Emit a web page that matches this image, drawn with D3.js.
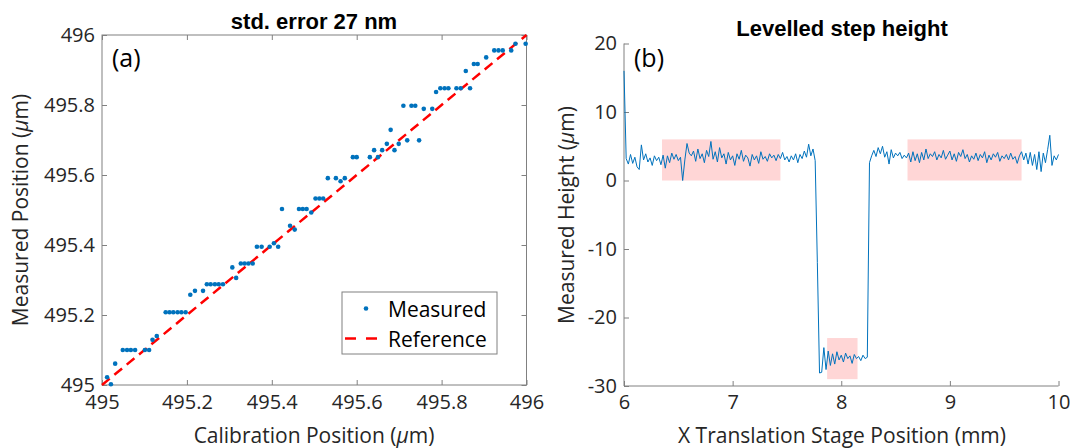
<!DOCTYPE html>
<html><head><meta charset="utf-8">
<script src="https://cdn.jsdelivr.net/npm/d3@7"></script>
<style>body{margin:0;background:#fff}svg{display:block}</style>
</head><body>
<svg id="chart" width="1070" height="448"></svg>
<script>
// ---------- Panel (a) data ----------
const calibX = [495.012,495.021,495.031,495.049,495.059,495.068,495.078,495.101,495.111,495.119,495.129,
495.150,495.159,495.168,495.178,495.187,495.197,495.208,495.219,495.238,495.247,495.256,495.266,495.275,495.285,
495.307,495.316,495.327,495.336,495.345,495.355,495.365,495.376,495.395,495.405,495.415,495.424,495.443,495.454,
495.464,495.473,495.482,495.493,495.503,495.512,495.521,495.532,495.551,495.562,495.572,495.591,495.600,495.631,
495.641,495.650,495.660,495.671,495.680,495.689,495.699,495.710,495.719,495.729,495.738,495.747,495.758,495.778,
495.787,495.797,495.807,495.816,495.835,495.845,495.857,495.867,495.876,495.885,495.905,495.924,495.934,495.944,
495.964,495.974,495.998];
const measuredY = [495.022,495.002,495.061,495.100,495.100,495.100,495.100,495.100,495.100,495.129,495.140,
495.208,495.208,495.208,495.208,495.208,495.208,495.258,495.269,495.269,495.288,495.288,495.288,495.288,495.288,
495.336,495.306,495.347,495.347,495.347,495.347,495.395,495.395,495.395,495.405,495.395,495.503,495.455,495.444,
495.503,495.503,495.503,495.493,495.533,495.533,495.533,495.591,495.591,495.582,495.591,495.651,495.651,495.651,
495.671,495.651,495.671,495.689,495.729,495.671,495.689,495.798,495.699,495.798,495.798,495.699,495.789,495.789,
495.837,495.848,495.848,495.848,495.848,495.848,495.897,495.848,495.917,495.917,495.936,495.956,495.956,495.956,
495.956,495.975,495.975];
const refX = [495, 496];
const refY = [495, 496];
const aTicks = [495, 495.2, 495.4, 495.6, 495.8, 496];
const aTickLabels = ["495", "495.2", "495.4", "495.6", "495.8", "496"];

// ---------- Panel (b) data ----------
const profileStart = 6.0;   // mm
const profileStep = 0.02;   // mm between samples
const heightUm = [
16.0,3.2,2.4,3.8,2.5,3.4,2.0,1.6,5.2,3.0,
3.9,2.7,3.3,2.2,3.6,2.9,3.4,2.3,3.7,1.8,
3.6,2.6,4.0,3.1,3.8,2.9,3.4,0.0,3.0,5.4,
4.0,3.6,4.3,2.8,4.6,3.2,3.9,2.6,4.4,3.5,
5.7,3.1,4.2,2.7,4.8,3.3,3.9,2.4,4.1,3.0,
3.6,2.2,3.9,3.1,4.4,2.8,3.7,3.3,2.1,3.8,
3.0,3.6,2.5,4.2,3.1,3.5,2.8,3.9,3.3,3.7,
2.9,3.8,3.2,4.1,3.0,3.5,2.7,3.6,3.0,3.9,
2.6,3.8,3.2,4.3,3.4,5.3,3.6,4.6,2.9,-12.0,
-28.1,-28.0,-24.4,-27.6,-24.9,-27.0,-25.3,-26.8,-25.0,-26.2,
-25.5,-26.5,-25.2,-26.0,-25.6,-26.7,-25.4,-26.0,-25.7,-26.3,
-25.5,-26.0,-25.8,2.6,3.6,4.4,3.5,4.8,3.9,5.0,
3.4,4.2,2.4,4.5,3.3,4.0,3.6,4.1,3.2,3.7,
3.3,4.0,2.7,4.2,2.9,3.9,2.6,4.1,3.0,4.6,
3.2,3.9,3.5,4.2,3.0,3.8,3.3,4.4,3.1,3.7,
4.3,3.0,3.9,2.8,4.1,3.5,4.5,3.2,3.8,2.7,
3.6,3.1,4.0,2.9,3.8,3.3,4.2,2.6,3.7,3.0,
3.9,3.4,4.1,2.8,3.6,3.2,3.8,3.0,4.0,3.1,
3.5,2.5,3.6,4.2,3.0,4.0,2.4,4.1,2.2,3.8,
1.6,4.2,1.3,4.0,2.6,4.5,6.6,2.2,3.6,3.0,
3.8];
const regionX0 = [6.35, 7.87, 8.61];
const regionX1 = [7.44, 8.15, 9.66];
const regionY0 = [0, -29, 0];
const regionY1 = [6, -23, 6];
const bXTicks = [6, 7, 8, 9, 10];
const bYTicks = [-30, -20, -10, 0, 10, 20];

// ---------- drawing ----------
const FONT = "'Open Sans', 'Noto Sans', sans-serif";
const TFONT = "'Liberation Sans', Arial, sans-serif";
const BLUE = "#0072BD";
const AXC = "#808080";
const TXT = "#262626";
const svg = d3.select("#chart");
svg.append("rect").attr("width",1070).attr("height",448).attr("fill","#fff");

// Panel (a)
const ax = d3.scaleLinear().domain([495, 496]).range([102, 526.5]);
const ay = d3.scaleLinear().domain([495, 496]).range([385, 35]);
const ga = svg.append("g");

function styleAxis(g){
  g.select(".domain").remove();
  g.selectAll(".tick line").attr("stroke", AXC);
  g.selectAll(".tick text").attr("fill", TXT).style("font-family", FONT).style("font-size","20px");
}
ga.append("g").attr("transform","translate(0,385)")
  .call(d3.axisBottom(ax).tickValues(aTicks).tickFormat((d,i)=>aTickLabels[i]).tickSizeInner(-5).tickSizeOuter(0).tickPadding(10))
  .call(styleAxis);
ga.append("g").attr("transform","translate(0,35)")
  .call(d3.axisTop(ax).tickValues(aTicks).tickFormat("").tickSizeInner(-5).tickSizeOuter(0))
  .call(styleAxis);
ga.append("g").attr("transform","translate(102,0)")
  .call(d3.axisLeft(ay).tickValues(aTicks).tickFormat((d,i)=>aTickLabels[i]).tickSizeInner(-5).tickSizeOuter(0).tickPadding(7))
  .call(styleAxis);
ga.append("g").attr("transform","translate(526.5,0)")
  .call(d3.axisRight(ay).tickValues(aTicks).tickFormat("").tickSizeInner(-5).tickSizeOuter(0))
  .call(styleAxis);
ga.append("rect").attr("x",102).attr("y",35).attr("width",424.5).attr("height",350)
  .attr("fill","none").attr("stroke",AXC).attr("stroke-width",1);

ga.append("line")
  .attr("x1", ax(refX[0])).attr("y1", ay(refY[0])).attr("x2", ax(refX[1])).attr("y2", ay(refY[1]))
  .attr("stroke","#ff0000").attr("stroke-width",2.5).attr("stroke-dasharray","10,6");

ga.selectAll("circle.m").data(calibX).join("circle").attr("class","m")
  .attr("cx", d=>ax(d)).attr("cy", (d,i)=>ay(measuredY[i])).attr("r",2.3).attr("fill",BLUE);

ga.append("text").attr("x",112).attr("y",67).text("(a)")
  .style("font-family",FONT).style("font-size","25px").attr("fill","#000");
ga.append("text").attr("x",314).attr("y",29).attr("text-anchor","middle").text("std. error 27 nm")
  .style("font-family",TFONT).style("font-size","22px").style("font-weight","bold").attr("fill","#000");
const xla = ga.append("text").attr("x",314).attr("y",443).attr("text-anchor","middle")
  .style("font-family",FONT).style("font-size","21px").attr("fill",TXT);
xla.append("tspan").text("Calibration Position (");
xla.append("tspan").text("μ").style("font-style","italic");
xla.append("tspan").text("m)");
const yla = ga.append("text").attr("transform","translate(28,210) rotate(-90)").attr("text-anchor","middle")
  .style("font-family",FONT).style("font-size","21px").attr("fill",TXT);
yla.append("tspan").text("Measured Position (");
yla.append("tspan").text("μ").style("font-style","italic");
yla.append("tspan").text("m)");

// legend
const lg = ga.append("g");
lg.append("rect").attr("x",342).attr("y",292).attr("width",155).attr("height",62)
  .attr("fill","#fff").attr("stroke",AXC).attr("stroke-width",1);
lg.append("circle").attr("cx",366).attr("cy",308.5).attr("r",2.3).attr("fill",BLUE);
lg.append("line").attr("x1",345).attr("x2",378).attr("y1",338.5).attr("y2",338.5)
  .attr("stroke","#ff0000").attr("stroke-width",2.5).attr("stroke-dasharray","11,10");
lg.append("text").attr("x",388).attr("y",316.5).text("Measured")
  .style("font-family",FONT).style("font-size","21px").attr("fill","#000");
lg.append("text").attr("x",388).attr("y",346.5).text("Reference")
  .style("font-family",FONT).style("font-size","21px").attr("fill","#000");

// Panel (b)
const bx = d3.scaleLinear().domain([6, 10]).range([624, 1058.5]);
const by = d3.scaleLinear().domain([-30, 20]).range([386, 43.5]);
const gb = svg.append("g");

gb.selectAll("rect.reg").data(regionX0).join("rect").attr("class","reg")
  .attr("x", d=>bx(d)).attr("width",(d,i)=>bx(regionX1[i])-bx(d))
  .attr("y",(d,i)=>by(regionY1[i])).attr("height",(d,i)=>by(regionY0[i])-by(regionY1[i]))
  .attr("fill","#ffd6d6");

gb.append("g").attr("transform","translate(0,386)")
  .call(d3.axisBottom(bx).tickValues(bXTicks).tickFormat(d3.format("d")).tickSizeInner(-5).tickSizeOuter(0).tickPadding(9))
  .call(styleAxis);
gb.append("g").attr("transform","translate(624,0)")
  .call(d3.axisLeft(by).tickValues(bYTicks).tickFormat(d=>String(d)).tickSizeInner(-5).tickSizeOuter(0).tickPadding(7))
  .call(styleAxis);
gb.append("line").attr("x1",624).attr("x2",624).attr("y1",43.5).attr("y2",386).attr("stroke",AXC);
gb.append("line").attr("x1",624).attr("x2",1058.5).attr("y1",386).attr("y2",386).attr("stroke",AXC);

const line = d3.line().x((d,i)=>bx(profileStart + i*profileStep)).y(d=>by(d));
gb.append("path").datum(heightUm).attr("d",line).attr("fill","none")
  .attr("stroke",BLUE).attr("stroke-width",1).attr("stroke-linejoin","round");

gb.append("text").attr("x",634).attr("y",67).text("(b)")
  .style("font-family",FONT).style("font-size","25px").attr("fill","#000");
gb.append("text").attr("x",842).attr("y",36).attr("text-anchor","middle").text("Levelled step height")
  .style("font-family",TFONT).style("font-size","22px").style("font-weight","bold").attr("fill","#000");
gb.append("text").attr("x",842).attr("y",443).attr("text-anchor","middle").text("X Translation Stage Position (mm)")
  .style("font-family",FONT).style("font-size","21px").attr("fill",TXT);
const ylb = gb.append("text").attr("transform","translate(574,215) rotate(-90)").attr("text-anchor","middle")
  .style("font-family",FONT).style("font-size","21px").attr("fill",TXT);
ylb.append("tspan").text("Measured Height (");
ylb.append("tspan").text("μ").style("font-style","italic");
ylb.append("tspan").text("m)");
</script>
</body></html>
